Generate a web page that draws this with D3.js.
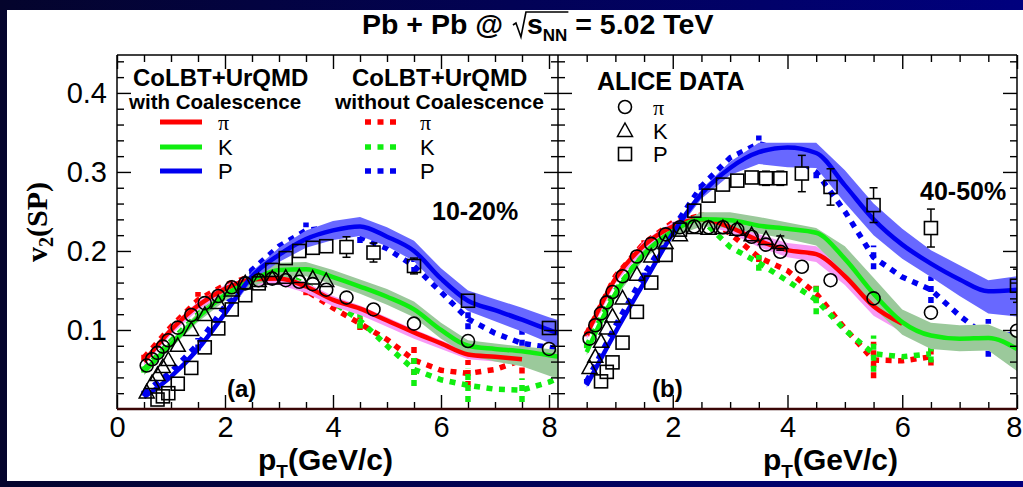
<!DOCTYPE html>
<html><head><meta charset="utf-8">
<script src="https://cdn.jsdelivr.net/npm/d3@7"></script>
<style>html,body{margin:0;padding:0;background:#fff;} svg{display:block} text{white-space:pre}</style>
</head><body><svg id="c" width="1023" height="487"></svg>
<script>
// ---------------- DATA ----------------
const modelPtA = [0.5,1,1.5,2,2.5,3,3.5,4,4.5,5,5.5,6,6.5,7,7.5,8,8.2];
const modelPtB = [0.5,1,1.5,2,2.5,3,3.5,4,4.5,5,5.5,6,6.5,7,7.5,8];

// Panel (a) 10-20%  CoLBT+UrQMD with coalescence (lines + bands)
const piCoalA   = [0.060,0.100,0.131,0.152,0.164,0.165,0.155,0.138,0.127,0.112,0.097,0.083,0.069,0.066,0.063,null,null];
const piBandLoA = [0.055,0.094,0.125,0.146,0.157,0.157,0.147,0.130,0.119,0.104,0.089,0.076,0.063,0.060,0.058,null,null];
const piBandHiA = [0.064,0.105,0.136,0.157,0.169,0.170,0.160,0.143,0.131,0.116,0.101,0.087,0.073,0.070,0.067,null,null];
const kCoalA    = [0.047,0.082,0.116,0.144,0.163,0.176,0.177,0.167,0.155,0.142,0.126,0.100,0.080,0.076,0.073,0.068,0.066];
const kBandLoA  = [0.043,0.077,0.110,0.137,0.155,0.167,0.168,0.158,0.146,0.132,0.116,0.089,0.068,0.060,0.054,0.042,0.037];
const kBandHiA  = [0.051,0.087,0.122,0.151,0.171,0.185,0.186,0.176,0.164,0.152,0.136,0.109,0.087,0.083,0.079,0.076,0.075];
const pCoalA    = [0.015,0.041,0.076,0.121,0.168,0.195,0.215,0.226,0.231,0.218,0.200,0.165,0.137,0.125,0.113,0.100,0.095];
const pBandLoA  = [0.013,0.039,0.073,0.117,0.162,0.186,0.204,0.214,0.219,0.206,0.187,0.152,0.124,0.111,0.098,0.084,0.078];
const pBandHiA  = [0.017,0.043,0.079,0.125,0.174,0.204,0.226,0.238,0.243,0.230,0.213,0.178,0.150,0.139,0.128,0.116,0.112];
// without coalescence (dotted) + their error bars
const piNoCoalA    = [0.065,0.104,0.138,0.157,0.168,0.167,0.150,0.128,0.108,0.088,0.062,0.049,0.045,0.050,0.062,null,null];
const kNoCoalA     = [0.050,0.086,0.120,0.148,0.166,0.172,0.158,0.135,0.112,0.080,0.050,0.037,0.030,0.025,0.024,0.034,0.040];
const pNoCoalA     = [0.020,0.047,0.082,0.130,0.176,0.206,0.226,0.230,0.218,0.203,0.181,0.148,0.114,0.096,0.083,0.078,0.076];
const piNoCoalErrA = [0.004,0,0.010,0,0.008,0,0.006,0,0.008,0,0.019,0,0.017,0,0.017,0,0];
const kNoCoalErrA  = [0.004,0,0.008,0,0.008,0,0.006,0,0.010,0,0.021,0,0.021,0,0.015,0,0];
const pNoCoalErrA  = [0.003,0,0.008,0,0.006,0,0.010,0,0.008,0,0.009,0,0.013,0,0.017,0,0];

// Panel (b) 40-50%
const piCoalB   = [0.094,0.165,0.207,0.231,0.240,0.230,0.213,0.201,0.196,0.168,0.130,0.108,null,null,null,null];
const piBandLoB = [0.088,0.159,0.201,0.225,0.234,0.223,0.205,0.192,0.186,0.157,0.118,0.097,null,null,null,null];
const piBandHiB = [0.100,0.171,0.213,0.237,0.246,0.237,0.221,0.210,0.206,0.179,0.142,0.119,null,null,null,null];
const kCoalB    = [0.072,0.146,0.196,0.225,0.240,0.239,0.232,0.228,0.223,0.190,0.146,0.110,0.093,0.089,0.090,0.076];
const kBandLoB  = [0.068,0.140,0.190,0.218,0.231,0.229,0.222,0.215,0.207,0.172,0.128,0.094,0.076,0.073,0.074,0.048];
const kBandHiB  = [0.076,0.152,0.202,0.232,0.249,0.249,0.243,0.236,0.229,0.206,0.166,0.126,0.109,0.106,0.107,0.092];
const pCoalB    = [0.030,0.097,0.160,0.222,0.272,0.305,0.325,0.331,0.324,0.283,0.240,0.208,0.184,0.164,0.149,0.151];
const pBandLoB  = [0.027,0.094,0.157,0.218,0.266,0.296,0.310,0.306,0.305,0.261,0.220,0.190,0.167,0.143,0.121,0.117];
const pBandHiB  = [0.033,0.100,0.163,0.226,0.278,0.313,0.337,0.337,0.337,0.302,0.260,0.228,0.201,0.182,0.163,0.168];
const piNoCoalB    = [0.095,0.168,0.210,0.236,0.245,0.222,0.192,0.175,0.146,0.102,0.062,0.061,0.066,null,null,null];
const kNoCoalB     = [0.080,0.150,0.198,0.228,0.240,0.205,0.185,0.162,0.138,0.100,0.070,0.066,0.070,null,null,null];
const pNoCoalB     = [0.035,0.105,0.170,0.228,0.282,0.318,0.336,0.325,0.300,0.250,0.192,0.167,0.151,0.118,0.090,0.095];
const piNoCoalErrB = [0.003,0,0.004,0,0.004,0,0.006,0,0.010,0,0.023,0,0.011,0,0,0];
const kNoCoalErrB  = [0.003,0,0.004,0,0.004,0,0.010,0,0.018,0,0.023,0,0.011,0,0,0];
const pNoCoalErrB  = [0.003,0,0.005,0,0.005,0,0.010,0,0.008,0,0.015,0,0.017,0,0.024,0];

// ALICE data
const ptPi = [0.55,0.65,0.75,0.85,0.95,1.125,1.375,1.625,1.875,2.125,2.375,2.625,2.875,3.125,3.375,3.625,3.875,4.25,4.75,5.5,6.5,8.0];
const v2PiA  = [0.055,0.063,0.071,0.079,0.087,0.103,0.119,0.134,0.143,0.154,0.159,0.163,0.165,0.163,0.161,0.158,0.151,0.141,0.126,0.108,0.086,0.076];
const errPiA = [0,0,0,0,0,0,0,0,0,0,0,0,0,0,0,0,0,0.002,0.003,0.003,0.004,0.005];
const v2PiB  = [0.089,0.106,0.121,0.135,0.148,0.168,0.193,0.209,0.221,0.230,0.231,0.230,0.230,0.227,0.218,0.208,0.199,0.180,0.163,0.140,0.122,0.099];
const errPiB = [0,0,0,0,0,0,0,0,0,0,0,0,0,0,0,0,0,0.004,0.005,0.005,0.006,0.007];
const ptK = [0.55,0.65,0.75,0.85,0.95,1.125,1.375,1.625,1.875,2.125,2.375,2.625,2.875,3.125,3.375,3.625,3.875];
const v2KA  = [0.021,0.033,0.043,0.053,0.062,0.080,0.100,0.119,0.134,0.150,0.159,0.162,0.165,0.166,0.167,0.165,0.162];
const errKA = [0,0,0,0,0,0,0,0,0,0,0,0,0,0,0.003,0.004,0.005];
const v2KB  = [0.052,0.066,0.085,0.102,0.117,0.140,0.170,0.193,0.210,0.220,0.229,0.228,0.229,0.227,0.220,0.215,0.210];
const errKB = [0,0,0,0,0,0,0,0,0,0,0,0,0,0.005,0.006,0.008,0.009];
const ptP = [0.75,0.85,0.95,1.125,1.375,1.625,1.875,2.125,2.375,2.625,2.875,3.125,3.375,3.625,3.875,4.25,4.75,5.5,6.5,8.0];
const v2PA  = [0.012,0.016,0.020,0.032,0.052,0.078,0.102,0.126,0.144,0.159,0.176,0.191,0.200,0.204,0.206,0.205,0.198,0.181,0.137,0.1025];
const errPA = [0,0,0,0,0,0,0,0,0,0,0,0,0.003,0.004,0.004,0.013,0.012,0.010,0.004,0.005];
const v2PB  = [0.035,0.047,0.059,0.084,0.123,0.160,0.195,0.227,0.251,0.270,0.284,0.289,0.293,0.292,0.292,0.298,0.281,0.258,0.229,0.156];
const errPB = [0,0,0,0,0,0,0,0,0,0.003,0.005,0.006,0.007,0.009,0.009,0.023,0.023,0.022,0.024,0.021];

const yMajor = [0.1,0.2,0.3,0.4];
const yTickLabels = ["0.1","0.2","0.3","0.4"];
const xMajorA = [0,2,4,6,8];
const xMajorB = [2,4,6,8];

// ---------------- DRAW ----------------
const W=1023,H=487;
const svg = d3.select('#c');
const defs = svg.append('defs');
const grad = defs.append('linearGradient').attr('id','navy').attr('x1',0).attr('x2',1).attr('y1',0).attr('y2',0);
grad.append('stop').attr('offset','0').attr('stop-color','#04042c');
grad.append('stop').attr('offset','1').attr('stop-color','#00007e');
svg.append('rect').attr('width',W).attr('height',H).attr('fill','url(#navy)');
svg.append('rect').attr('x',7).attr('y',10).attr('width',W-7).attr('height',471).attr('fill','#fff');

const SANS = "'Liberation Sans', Arial, Helvetica, sans-serif";
const SERIF = "'Liberation Serif', 'Times New Roman', serif";
const RED='#ff0000', GREEN='#10ee10', BLUE='#0000f0';
const PINK='#f79af5', GBAND='#9bc99b', BBAND='#6868ff';

const yTop=55, yBot=409;
const y = d3.scaleLinear().domain([0,0.448]).range([yBot,yTop]);
const xA = d3.scaleLinear().domain([0,8.1667]).range([117,558]);
const xB = d3.scaleLinear().domain([0,8]).range([558,1017]);

function drawPanel(id, x, pts, M, D) {
  const [x0,x1] = x.range();
  defs.append('clipPath').attr('id','clip'+id).append('rect')
    .attr('x',x0).attr('y',yTop).attr('width',x1-x0).attr('height',yBot-yTop);
  const g = svg.append('g').attr('clip-path','url(#clip'+id+')');
  const zip = arr => pts.map((p,i)=>[p,arr[i]]);
  const lineS = d3.line().defined(d=>d[1]!=null).x(d=>x(d[0])).y(d=>y(d[1])).curve(d3.curveMonotoneX);
  const lineD = d3.line().defined(d=>d[1]!=null).x(d=>x(d[0])).y(d=>y(d[1]));
  const area = (lo,hi) => d3.area().defined((d,i)=>lo[i]!=null).x((d,i)=>x(pts[i])).y0((d,i)=>y(lo[i])).y1((d,i)=>y(hi[i]))(pts);
  M.dotted.forEach(s=>{
    g.append('path').attr('d',lineD(zip(s.v))).attr('fill','none').attr('stroke',s.c)
      .attr('stroke-width',5.5).attr('stroke-dasharray','6,6.5');
    s.e.forEach((e,i)=>{ if(e>0 && s.v[i]!=null){
      g.append('line').attr('x1',x(pts[i])).attr('x2',x(pts[i]))
        .attr('y1',y(s.v[i]-e)).attr('y2',y(s.v[i]+e))
        .attr('stroke',s.c).attr('stroke-width',5.5).attr('stroke-dasharray','6,5');
    }});
  });
  M.bands.forEach(b=>{
    g.append('path').attr('d',area(b.lo,b.hi)).attr('fill',b.c).attr('stroke','none');
  });
  M.solid.forEach(s=>{
    g.append('path').attr('d',lineS(zip(s.v))).attr('fill','none').attr('stroke',s.c)
      .attr('stroke-width',4.5).attr('stroke-linejoin','round');
  });
  D.forEach(s=>{
    s.pt.forEach((p,i)=>{
      const cx=x(p), cy=y(s.v[i]), e=s.e[i];
      if(e>0){
        const hi=y(s.v[i]+e), lo=y(s.v[i]-e), h=6.5;
        if(cy-hi>h){
          g.append('line').attr('x1',cx).attr('x2',cx).attr('y1',hi).attr('y2',cy-h).attr('stroke','#000').attr('stroke-width',1.5);
          g.append('line').attr('x1',cx-4).attr('x2',cx+4).attr('y1',hi).attr('y2',hi).attr('stroke','#000').attr('stroke-width',1.5);
        }
        if(lo-cy>h){
          g.append('line').attr('x1',cx).attr('x2',cx).attr('y1',cy+h).attr('y2',lo).attr('stroke','#000').attr('stroke-width',1.5);
          g.append('line').attr('x1',cx-4).attr('x2',cx+4).attr('y1',lo).attr('y2',lo).attr('stroke','#000').attr('stroke-width',1.5);
        }
      }
      marker(g, s.m, cx, cy);
    });
  });
}

function marker(g, m, cx, cy){
  if(m==='o') g.append('circle').attr('cx',cx).attr('cy',cy).attr('r',6.5).attr('fill','none').attr('stroke','#000').attr('stroke-width',1.6);
  else if(m==='s') g.append('rect').attr('x',cx-6.5).attr('y',cy-6.5).attr('width',13).attr('height',13).attr('fill','none').attr('stroke','#000').attr('stroke-width',1.6);
  else g.append('path').attr('d',`M${cx},${cy-8}L${cx+7.5},${cy+5.5}L${cx-7.5},${cy+5.5}Z`).attr('fill','none').attr('stroke','#000').attr('stroke-width',1.5);
}

drawPanel('a', xA, modelPtA, {
  dotted:[{v:piNoCoalA,e:piNoCoalErrA,c:RED},{v:kNoCoalA,e:kNoCoalErrA,c:GREEN},{v:pNoCoalA,e:pNoCoalErrA,c:BLUE}],
  bands:[{lo:piBandLoA,hi:piBandHiA,c:PINK},{lo:kBandLoA,hi:kBandHiA,c:GBAND},{lo:pBandLoA,hi:pBandHiA,c:BBAND}],
  solid:[{v:piCoalA,c:RED},{v:kCoalA,c:GREEN},{v:pCoalA,c:BLUE}]
},[
  {pt:ptPi,v:v2PiA,e:errPiA,m:'o'},{pt:ptK,v:v2KA,e:errKA,m:'t'},{pt:ptP,v:v2PA,e:errPA,m:'s'}
]);
drawPanel('b', xB, modelPtB, {
  dotted:[{v:piNoCoalB,e:piNoCoalErrB,c:RED},{v:kNoCoalB,e:kNoCoalErrB,c:GREEN},{v:pNoCoalB,e:pNoCoalErrB,c:BLUE}],
  bands:[{lo:piBandLoB,hi:piBandHiB,c:PINK},{lo:kBandLoB,hi:kBandHiB,c:GBAND},{lo:pBandLoB,hi:pBandHiB,c:BBAND}],
  solid:[{v:piCoalB,c:RED},{v:kCoalB,c:GREEN},{v:pCoalB,c:BLUE}]
},[
  {pt:ptPi,v:v2PiB,e:errPiB,m:'o'},{pt:ptK,v:v2KB,e:errKB,m:'t'},{pt:ptP,v:v2PB,e:errPB,m:'s'}
]);

// ---------------- AXES ----------------
const yMinor = d3.range(0.02,0.445,0.02).filter(v=>Math.abs(v*10-Math.round(v*10))>1e-6);
function axisG(tr, ax){ const g=svg.append('g').attr('transform',tr).call(ax); g.select('.domain').remove(); g.selectAll('line').attr('stroke','#000').attr('stroke-width',1.4); return g; }
const tickFont = g => g.selectAll('text').attr('font-family',SANS).attr('font-size',29).attr('fill','#000');

tickFont(axisG('translate(117,0)', d3.axisLeft(y).tickValues(yMajor).tickSize(-14).tickPadding(10).tickFormat((d,i)=>yTickLabels[i])));
axisG('translate(117,0)', d3.axisLeft(y).tickValues(yMinor).tickSize(-7).tickFormat(''));
axisG('translate(558,0)', d3.axisRight(y).tickValues(yMajor).tickSize(-14).tickFormat(''));
axisG('translate(558,0)', d3.axisRight(y).tickValues(yMinor).tickSize(-7).tickFormat(''));
axisG('translate(558,0)', d3.axisLeft(y).tickValues(yMajor).tickSize(-14).tickFormat(''));
axisG('translate(558,0)', d3.axisLeft(y).tickValues(yMinor).tickSize(-7).tickFormat(''));
axisG('translate(1017,0)', d3.axisRight(y).tickValues(yMajor).tickSize(-14).tickFormat(''));
axisG('translate(1017,0)', d3.axisRight(y).tickValues(yMinor).tickSize(-7).tickFormat(''));

const xMinorA = d3.range(0.5,8.01,0.5).filter(v=>v%2!==0);
const xMinorB = d3.range(0.5,7.6,0.5).filter(v=>v%2!==0);
tickFont(axisG(`translate(0,${yBot})`, d3.axisBottom(xA).tickValues(xMajorA).tickSize(-14).tickPadding(7).tickFormat(d3.format('d'))));
axisG(`translate(0,${yBot})`, d3.axisBottom(xA).tickValues(xMinorA).tickSize(-7).tickFormat(''));
const bx = axisG(`translate(0,${yBot})`, d3.axisBottom(xB).tickValues(xMajorB).tickSize(-14).tickPadding(7).tickFormat(d3.format('d')));
tickFont(bx);
bx.selectAll('text').filter(d=>d===8).attr('text-anchor','end').attr('x',5);
axisG(`translate(0,${yBot})`, d3.axisBottom(xB).tickValues(xMinorB).tickSize(-7).tickFormat(''));
axisG(`translate(0,${yTop})`, d3.axisTop(xA).tickValues(xMajorA).tickSize(-14).tickFormat(''));
axisG(`translate(0,${yTop})`, d3.axisTop(xA).tickValues(xMinorA).tickSize(-7).tickFormat(''));
axisG(`translate(0,${yTop})`, d3.axisTop(xB).tickValues(xMajorB).tickSize(-14).tickFormat(''));
axisG(`translate(0,${yTop})`, d3.axisTop(xB).tickValues(xMinorB).tickSize(-7).tickFormat(''));

// frame
const fr = svg.append('g').attr('stroke','#000').attr('stroke-width',1.5);
fr.append('line').attr('x1',117).attr('x2',117).attr('y1',yTop).attr('y2',yBot);
fr.append('line').attr('x1',558).attr('x2',558).attr('y1',yTop).attr('y2',yBot);
fr.append('line').attr('x1',1017).attr('x2',1017).attr('y1',yTop).attr('y2',yBot);
fr.append('line').attr('x1',117).attr('x2',1017).attr('y1',yTop).attr('y2',yTop);
svg.append('line').attr('x1',117).attr('x2',1017).attr('y1',yBot).attr('y2',yBot).attr('stroke','#3a0606').attr('stroke-width',2.5);

// ---------------- TEXT ----------------
function txt(x,yy,s,opt={}){
  return svg.append('text').attr('x',x).attr('y',yy).attr('font-family',opt.ff||SANS)
    .attr('font-size',opt.fs||25).attr('font-weight',opt.fw||'normal').attr('text-anchor',opt.ta||'start')
    .attr('fill','#000').text(s);
}
(function(){
  let x=362; const yb=34;
  const a = txt(x,yb,'Pb + Pb @ ',{fs:28.5,fw:'bold'}); x+=a.node().getComputedTextLength()+2;
  const rx = x;
  x+=14;
  const s = txt(x,yb,'s',{fs:28.5,fw:'bold'}); x+=s.node().getComputedTextLength();
  const nn = txt(x,yb+7,'NN',{fs:17,fw:'bold'}); x+=nn.node().getComputedTextLength();
  svg.append('path').attr('d',`M${rx},${yb-9} l3,-2 l5,14 l5,-25 L${x+1},${yb-22}`)
    .attr('fill','none').attr('stroke','#000').attr('stroke-width',1.6);
  txt(x,yb,' = 5.02 TeV',{fs:28.5,fw:'bold'});
})();

const yt = svg.append('text').attr('transform','translate(47,222) rotate(-90)').attr('text-anchor','middle')
  .attr('font-family',SERIF).attr('font-weight','bold').attr('font-size',30).attr('fill','#000');
yt.append('tspan').text('v');
yt.append('tspan').attr('font-size',20).attr('dy',6).text('2');
yt.append('tspan').attr('dy',-6).text('(SP)');

[258,763].forEach(x0=>{
  const t = svg.append('text').attr('x',x0).attr('y',470).attr('font-family',SANS).attr('font-weight','bold').attr('font-size',30).attr('fill','#000');
  t.append('tspan').text('p');
  t.append('tspan').attr('font-size',19).attr('dy',8).text('T');
  t.append('tspan').attr('dy',-8).text('(GeV/c)');
});

// legends
txt(133,86,'CoLBT+UrQMD',{fs:24,fw:'bold'});
txt(129,109,'with Coalescence',{fs:20.5,fw:'bold'});
txt(352,86,'CoLBT+UrQMD',{fs:24,fw:'bold'});
txt(335,109,'without Coalescence',{fs:21,fw:'bold'});
const legY=[122,147,171], legC=[RED,GREEN,BLUE], legL=['π','K','P'];
legY.forEach((ly,i)=>{
  svg.append('line').attr('x1',160).attr('x2',202).attr('y1',ly).attr('y2',ly).attr('stroke',legC[i]).attr('stroke-width',5);
  svg.append('line').attr('x1',365).attr('x2',402).attr('y1',ly).attr('y2',ly).attr('stroke',legC[i]).attr('stroke-width',5.5).attr('stroke-dasharray','6,6.5');
  const o = i===0?{fs:22,ff:SERIF}:{fs:22};
  txt(218,ly+8,legL[i],o);
  txt(420,ly+8,legL[i],o);
});
txt(597,90,'ALICE DATA',{fs:25,fw:'bold'});
const aliceY=[107,131,154];
['o','t','s'].forEach((m,i)=>{
  marker(svg,m,625,aliceY[i]);
  txt(653,aliceY[i]+8,legL[i],i===0?{fs:22,ff:SERIF}:{fs:22});
});
txt(432,220,'10-20%',{fs:25,fw:'bold'});
txt(920,200,'40-50%',{fs:25,fw:'bold'});
txt(227,397,'(a)',{fs:24,fw:'bold'});
txt(652,397,'(b)',{fs:24,fw:'bold'});
</script></body></html>
